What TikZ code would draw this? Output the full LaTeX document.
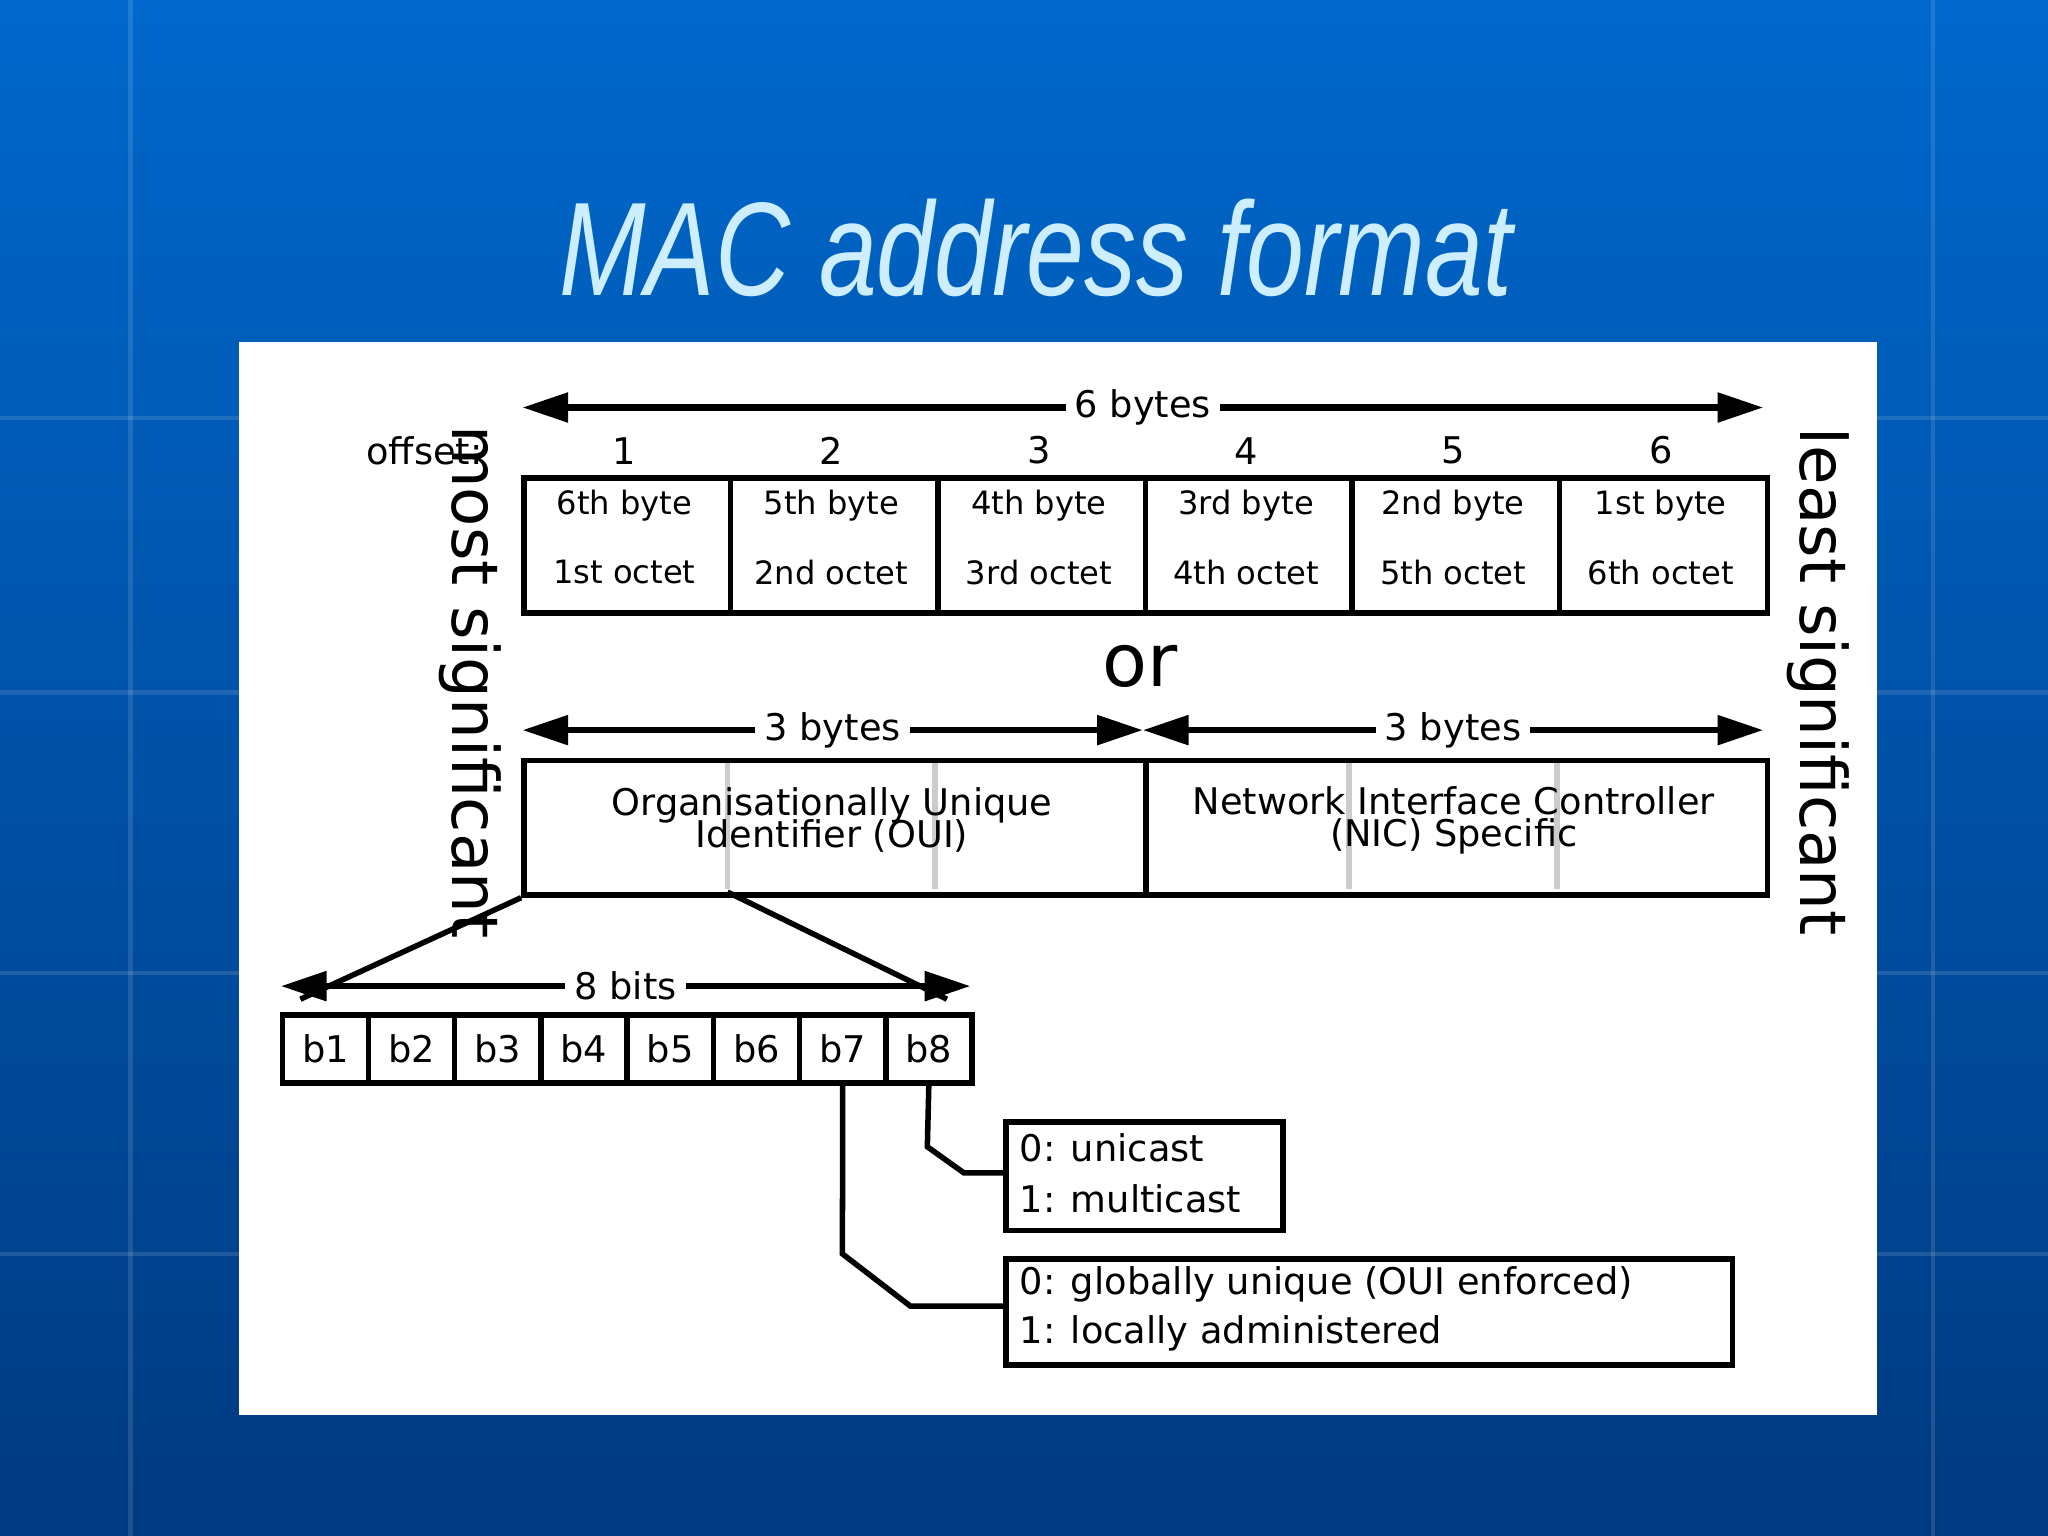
\documentclass[tikz,border=0pt]{standalone}
\usepackage{fontspec}
\setmainfont{DejaVu Sans}
\newfontfamily\titlef{Liberation Sans}
\usetikzlibrary{arrows.meta}
\definecolor{bgtop}{HTML}{0068CC}
\definecolor{bgbot}{HTML}{003A80}
\definecolor{titlec}{HTML}{CCEEFF}
\begin{document}
\begin{tikzpicture}[x=0.01cm,y=-0.01cm,
  box/.style={draw,line width=1.2pt},
  dim/.style={line width=1.4pt,{Triangle[length=0.35cm,width=0.22cm]}-{Triangle[length=0.35cm,width=0.22cm]}},
  lbl/.style={fill=white,inner sep=2pt,font=\fontsize{8}{9}\selectfont},
  txt/.style={font=\fontsize{7}{8}\selectfont,inner sep=0pt},
  faint/.style={draw=black!20,line width=1.2pt},
  wire/.style={line width=1.2pt}]
\useasboundingbox (0,0) rectangle (1568,1176);
\shade[top color=bgtop,bottom color=bgbot] (0,0) rectangle (1568,1176);
\foreach \yy in {320,530,745,960} \draw[white,opacity=0.12,line width=1pt] (0,\yy) -- (1568,\yy);
\foreach \xx in {100,1480} \draw[white,opacity=0.12,line width=1pt] (\xx,0) -- (\xx,1176);
\node[font=\titlef\itshape\fontsize{29}{32}\selectfont,text=titlec,xscale=0.78] (title) at (793,190) {MAC address format};
\fill[white] (183,262) rectangle (1437,1083);
% top row
\draw[dim] (400,312) -- node[lbl] (six) {6 bytes} (1350,312);
\node[font=\fontsize{8}{9}\selectfont] (off) at (325,345) {offset:};
\foreach \i/\a/\b [count=\k] in {399/6th byte/1st octet,557/5th byte/2nd octet,716/4th byte/3rd octet,875/3rd byte/4th octet,1033/2nd byte/5th octet,1192/1st byte/6th octet}{
  \pgfmathsetmacro\w{\k==6 ? 1351 : (\k==1?557:(\k==2?716:(\k==3?875:(\k==4?1033:1192))))}
  \node[box,minimum width={(\w-\i)*0.01cm},minimum height=1.03cm,anchor=north west,inner sep=0pt] (c\k) at (\i,364) {};
  \node[font=\fontsize{8}{9}\selectfont] (o\k) at ({(\i+\w)/2},345) {\k};
  \node[txt] (t\k) at ({(\i+\w)/2},387) {\a};
  \node[txt] (u\k) at ({(\i+\w)/2},438) {\b};
}
\node[font=\fontsize{16}{18}\selectfont] (or) at (873,510) {or};
\draw[dim] (400,559) -- node[lbl] (tb1) {3 bytes} (875,559);
\draw[dim] (875,559) -- node[lbl] (tb2) {3 bytes} (1350,559);
\foreach \xx in {557,716,1033,1192} \draw[faint] (\xx,582) -- (\xx,681);
\node[box,minimum width=4.76cm,minimum height=1.03cm,anchor=north west] (oui) at (399,580) {};
\node[box,minimum width=4.76cm,minimum height=1.03cm,anchor=north west] (nic) at (875,580) {};
\node[txt,font=\fontsize{8}{8}\selectfont,align=center] (ouit) at (637,628) {Organisationally Unique\\[-1pt]Identifier (OUI)};
\node[txt,font=\fontsize{8}{8}\selectfont,align=center] (nict) at (1113,628) {Network Interface Controller\\[-1pt](NIC) Specific};
\node[rotate=-90,font=\fontsize{14}{16}\selectfont] (most) at (360,522) {most significant};
\node[rotate=-90,font=\fontsize{14}{16}\selectfont] (least) at (1392,522) {least significant};
% bits
\coordinate (l1) at (230,765); \coordinate (l2) at (725,765);
\draw[wire] (oui.south west) -- (l1);
\draw[wire] (557,683) -- (l2);
\draw[dim] (215,755) -- node[lbl] (eb) {8 bits} (743,755);
\foreach \k in {1,...,8}{
  \node[box,minimum width=0.66cm,minimum height=0.52cm,anchor=north west,inner sep=0pt,font=\fontsize{8}{9}\selectfont] (b\k) at ({214+66*(\k-1)},775) {b\k};
}
\node[box,anchor=north west,minimum width=2.12cm,minimum height=0.83cm] (cast) at (768,857) {};
\node[txt,anchor=west,font=\fontsize{8}{9}\selectfont] (c0) at (780,879) {0: unicast};
\node[txt,anchor=west,font=\fontsize{8}{9}\selectfont] (c1) at (780,918) {1: multicast};
\node[box,anchor=north west,minimum width=5.56cm,minimum height=0.81cm] (adm) at (768,962) {};
\node[txt,anchor=west,font=\fontsize{8}{9}\selectfont] (a0) at (780,983) {0: globally unique (OUI enforced)};
\node[txt,anchor=west,font=\fontsize{8}{9}\selectfont] (a1) at (780,1021) {1: locally administered};
\draw[wire] (b8.south) -- (710,878) -- (738,898) -- (cast.west |- 0,898);
\draw[wire] (b7.south) -- (645,960) -- (697,1000) -- (adm.west |- 0,1000);
\end{tikzpicture}
\end{document}
